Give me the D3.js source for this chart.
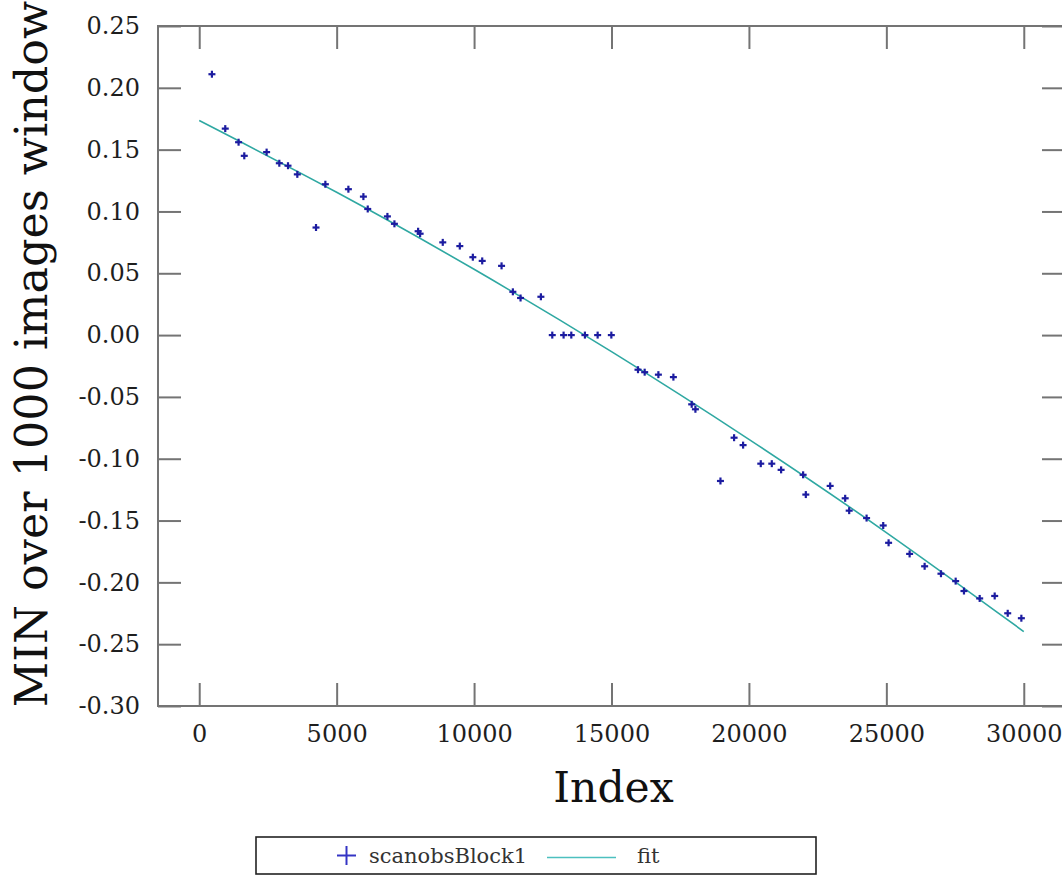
<!DOCTYPE html>
<html>
<head>
<meta charset="utf-8">
<script src="https://cdn.jsdelivr.net/npm/d3@7"></script>
<style>
  html, body { margin: 0; padding: 0; background: #fff; }
  svg { display: block; }
  text { font-family: "DejaVu Serif", serif; }
</style>
</head>
<body>
<svg id="chart" width="1062" height="876"></svg>
<script>
// Minimum value over a sliding window of 1000 images, sampled along the scan index
const sampleIndex = [
  462, 947, 1432, 1639, 2452, 2914, 3230, 3569, 4249, 4589,
  5427, 5973, 6131, 6847, 7102, 7964, 8037, 8861, 9481, 9955,
  10296, 11000, 11411, 11691, 12431, 12845, 13257, 13537, 14033, 14496,
  14994, 15964, 16207, 16706, 17252, 17918, 18053, 18964, 19460, 19788,
  20431, 20832, 21171, 21972, 22070, 22956, 23502, 23648, 24281, 24886,
  25082, 25847, 26393, 26987, 27522, 27824, 28396, 28942, 29416, 29912
];
const sampleMin = [
  0.211, 0.167, 0.156, 0.145, 0.148, 0.139, 0.137, 0.130, 0.087, 0.122,
  0.118, 0.112, 0.102, 0.096, 0.090, 0.084, 0.082, 0.075, 0.072, 0.063,
  0.060, 0.056, 0.035, 0.030, 0.031, 0.000, 0.000, 0.000, 0.000, 0.000,
  0.000, -0.028, -0.030, -0.032, -0.034, -0.056, -0.060, -0.118, -0.083, -0.089,
  -0.104, -0.104, -0.109, -0.113, -0.129, -0.122, -0.132, -0.142, -0.148, -0.154,
  -0.168, -0.177, -0.187, -0.193, -0.199, -0.207, -0.213, -0.211, -0.225, -0.229
];

// Fitted curve, sampled every 5000 along the index
const fitIndex = [0, 5000, 10000, 15000, 20000, 25000, 30000];
const fitValue = [0.1735, 0.1155, 0.0532, -0.0134, -0.0843, -0.1597, -0.2398];

// Axis ticks
const xTicks = [0, 5000, 10000, 15000, 20000, 25000, 30000];
const yTicks = [0.25, 0.20, 0.15, 0.10, 0.05, 0.00, -0.05, -0.10, -0.15, -0.20, -0.25, -0.30];

const seriesName = "scanobsBlock1";
const fitName = "fit";
const xTitle = "Index";
const yTitle = "MIN over 1000 images window";

const serif = "'DejaVu Serif', serif";
const svg = d3.select("#chart");
const frame = { left: 158, right: 1065, top: 26, bottom: 706 };
const frameColor = "#747474";
const pointColor = "#1c1ca0";
const fitColor = "#2fa8a2";

const x = d3.scaleLinear().domain([-1500, 31500]).range([frame.left, frame.right]);
const y = d3.scaleLinear().domain([-0.30, 0.25]).range([frame.bottom, frame.top]);

const plain = d3.formatLocale({ decimal: ".", thousands: ",", grouping: [3], currency: ["", ""], minus: "-" });
const fmtY = plain.format(".2f");
const fmtX = plain.format("d");

svg.append("rect").attr("width", 1062).attr("height", 876).attr("fill", "#fff");

const tickLen = 23;

function styleAxis(g, showText) {
  g.attr("font-family", serif).attr("font-size", 24);
  g.select(".domain").remove();
  g.selectAll(".tick line").attr("stroke", frameColor).attr("stroke-width", 2);
  g.selectAll(".tick text")
    .attr("fill", "#1e1e1e")
    .style("display", showText ? null : "none");
}

// Bottom axis with labels
svg.append("g")
  .attr("transform", `translate(0,${frame.bottom})`)
  .call(d3.axisBottom(x).tickValues(xTicks).tickFormat(fmtX).tickSizeInner(-tickLen).tickSizeOuter(0).tickPadding(19))
  .call(g => styleAxis(g, true));

// Top axis, ticks only
svg.append("g")
  .attr("transform", `translate(0,${frame.top})`)
  .call(d3.axisTop(x).tickValues(xTicks).tickSizeInner(-tickLen).tickSizeOuter(0))
  .call(g => styleAxis(g, false));

// Left axis with labels
svg.append("g")
  .attr("transform", `translate(${frame.left},0)`)
  .call(d3.axisLeft(y).tickValues(yTicks).tickFormat(fmtY).tickSizeInner(-tickLen).tickSizeOuter(0).tickPadding(18))
  .call(g => styleAxis(g, true));

// Right axis, ticks only
svg.append("g")
  .attr("transform", `translate(${frame.right},0)`)
  .call(d3.axisRight(y).tickValues(yTicks).tickSizeInner(-tickLen).tickSizeOuter(0))
  .call(g => styleAxis(g, false));

// Plot frame
svg.append("rect")
  .attr("x", frame.left).attr("y", frame.top)
  .attr("width", frame.right - frame.left).attr("height", frame.bottom - frame.top)
  .attr("fill", "none").attr("stroke", frameColor).attr("stroke-width", 2);

// Fit curve
const fitData = fitIndex.map((d, i) => [d, fitValue[i]]);
svg.append("path")
  .datum(fitData)
  .attr("fill", "none")
  .attr("stroke", fitColor)
  .attr("stroke-width", 1.6)
  .attr("d", d3.line().curve(d3.curveNatural).x(d => x(d[0])).y(d => y(d[1])));

// Sample points as small plus markers
const pts = sampleIndex.map((d, i) => [d, sampleMin[i]]);
const arm = 3.5;
svg.append("g")
  .selectAll("g")
  .data(pts)
  .join("g")
  .attr("transform", d => `translate(${x(d[0])},${y(d[1])})`)
  .each(function () {
    const g = d3.select(this);
    g.append("line").attr("x1", -arm).attr("x2", arm).attr("y1", 0).attr("y2", 0);
    g.append("line").attr("x1", 0).attr("x2", 0).attr("y1", -arm).attr("y2", arm);
  })
  .selectAll("line")
  .attr("stroke", pointColor)
  .attr("stroke-width", 2.2);

// Axis titles
svg.append("text")
  .attr("x", (frame.left + frame.right) / 2 + 2)
  .attr("y", 802)
  .attr("text-anchor", "middle")
  .attr("fill", "#111")
  .attr("font-family", serif)
  .attr("font-size", 42.5)
  .text(xTitle);

svg.append("text")
  .attr("transform", `translate(47,354) rotate(-90)`)
  .attr("text-anchor", "middle")
  .attr("fill", "#111")
  .attr("font-family", serif)
  .attr("font-size", 44.5)
  .text(yTitle);

// Legend
const legend = svg.append("g").attr("font-family", serif);
legend.append("rect")
  .attr("x", 256).attr("y", 837)
  .attr("width", 560).attr("height", 37)
  .attr("fill", "#fff").attr("stroke", "#222").attr("stroke-width", 1.6);

legend.append("line").attr("x1", 337).attr("x2", 356).attr("y1", 855.5).attr("y2", 855.5)
  .attr("stroke", "#3434c4").attr("stroke-width", 2);
legend.append("line").attr("x1", 346.5).attr("x2", 346.5).attr("y1", 846).attr("y2", 865)
  .attr("stroke", "#3434c4").attr("stroke-width", 2);
legend.append("text")
  .attr("x", 369).attr("y", 863)
  .attr("fill", "#333")
  .attr("font-size", 21)
  .text(seriesName);

legend.append("line").attr("x1", 547).attr("x2", 616).attr("y1", 857.5).attr("y2", 857.5)
  .attr("stroke", "#4cc0bf").attr("stroke-width", 1.6);
legend.append("text")
  .attr("x", 637).attr("y", 863)
  .attr("fill", "#333")
  .attr("font-size", 21)
  .text(fitName);
</script>
</body>
</html>
